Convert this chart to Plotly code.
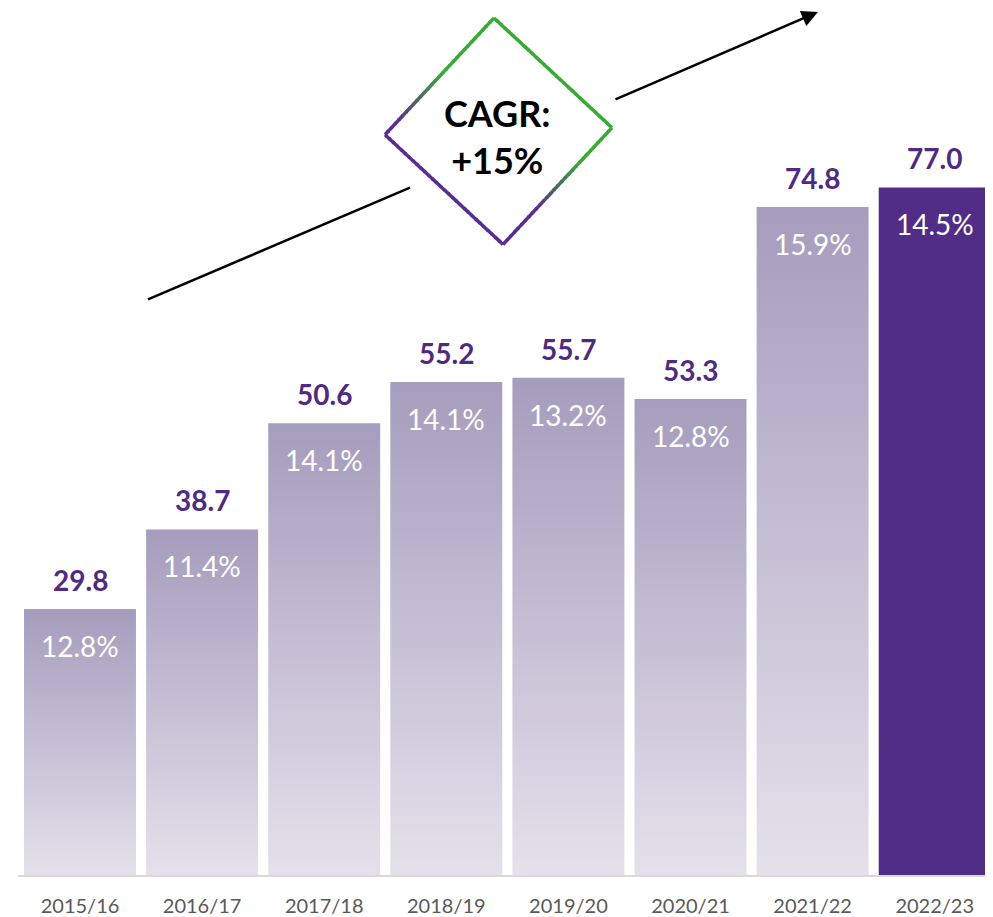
import plotly.graph_objects as go

categories = ["2015/16", "2016/17", "2017/18", "2018/19", "2019/20", "2020/21", "2021/22", "2022/23"]
values = [29.8, 38.7, 50.6, 55.2, 55.7, 53.3, 74.8, 77.0]
shares = ["12.8%", "11.4%", "14.1%", "14.1%", "13.2%", "12.8%", "15.9%", "14.5%"]
value_labels = ["29.8", "38.7", "50.6", "55.2", "55.7", "53.3", "74.8", "77.0"]
cagr_text = "CAGR:<br>+15%"

# page offset (default body margin) compensation
OX, OY = 8, 8
W, H = 993 - OX, 917 - OY
ML, MT = 18 - OX, 0
MR = 0
PLOT_BOTTOM = 877 - OY
MB = H - PLOT_BOTTOM
PW, PH = W - ML - MR, PLOT_BOTTOM - MT
PX_PER_UNIT = 8.95
YMAX = PH / PX_PER_UNIT
PITCH = 122.1
X0 = -(80 - 18) / PITCH
X1 = X0 + PW / PITCH

def px(x):
    return (x - OX - ML) / PW

def py(y):
    return (PLOT_BOTTOM - (y - OY)) / PH

HALF = 0.4585
PURPLE = "#512d87"
LABEL_PURPLE = "#4f2a80"

fig = go.Figure()
for i, (c, v) in enumerate(zip(categories, values)):
    xs = [i - HALF, i + HALF, i + HALF, i - HALF, i - HALF]
    ys = [0, 0, v, v, 0]
    if i == len(categories) - 1:
        fig.add_trace(go.Scatter(x=xs, y=ys, fill="toself", mode="lines",
                                 line=dict(width=0, color=PURPLE), fillcolor=PURPLE,
                                 hoverinfo="skip", showlegend=False))
    else:
        fig.add_trace(go.Scatter(x=xs, y=ys, fill="toself", mode="lines",
                                 line=dict(width=0, color="rgba(0,0,0,0)"),
                                 fillgradient=dict(type="vertical",
                                                   colorscale=[[0, "#e4e1eb"], [1, "#a69cbd"]]),
                                 hoverinfo="skip", showlegend=False))

annotations = []
for i, v in enumerate(values):
    annotations.append(dict(x=i, y=v, xref="x", yref="y", text=f"<b>{value_labels[i]}</b>",
                            showarrow=False, yshift=29, xanchor="center", yanchor="middle",
                            font=dict(family="Lato", size=28, color=LABEL_PURPLE)))
    annotations.append(dict(x=i, y=v, xref="x", yref="y", text=shares[i],
                            showarrow=False, yshift=-37, xanchor="center", yanchor="middle",
                            font=dict(family="Lato", size=28, color="white")))

# CAGR label
annotations.append(dict(x=px(497), y=py(137), xref="paper", yref="paper", text=f"<b>{cagr_text}</b>",
                        showarrow=False, xanchor="center", yanchor="middle",
                        font=dict(family="Lato", size=36, color="black"),
                        align="center"))
# arrow head segment
annotations.append(dict(x=px(818), y=py(12), xref="paper", yref="paper",
                        ax=614 - 818, ay=100 - 12, axref="pixel", ayref="pixel",
                        showarrow=True, arrowhead=2, arrowsize=1.3, arrowwidth=2.5,
                        arrowcolor="black", text=""))

shapes = [dict(type="line", xref="paper", yref="paper", x0=px(148), y0=py(300), x1=px(410), y1=py(188),
               line=dict(color="black", width=2.5))]

# diamond with gradient stroke
verts = [(494, 18), (612, 128), (503, 245), (385, 135)]
c0 = (88, 45, 145)
c1 = (58, 170, 53)

def col(x, y):
    s = 92 * x - 137 * y
    t = (s - 20000) / 11000
    t = max(0.0, min(1.0, t))
    r = [round(a + (b - a) * t) for a, b in zip(c0, c1)]
    return f"rgb({r[0]},{r[1]},{r[2]})"

N = 30
for k in range(4):
    (xa, ya), (xb, yb) = verts[k], verts[(k + 1) % 4]
    for j in range(N):
        t0, t1 = j / N, (j + 1) / N
        x0, y0 = xa + (xb - xa) * t0, ya + (yb - ya) * t0
        x1, y1 = xa + (xb - xa) * t1, ya + (yb - ya) * t1
        ex0, ey0 = xa + (xb - xa) * max(0, t0 - 0.01), ya + (yb - ya) * max(0, t0 - 0.01)
        shapes.append(dict(type="line", xref="paper", yref="paper",
                           x0=px(ex0), y0=py(ey0), x1=px(x1), y1=py(y1),
                           line=dict(color=col((x0 + x1) / 2, (y0 + y1) / 2), width=3.5)))

fig.update_layout(
    width=W, height=H,
    margin=dict(l=ML, r=MR, t=MT, b=MB, pad=0),
    plot_bgcolor="white", paper_bgcolor="white",
    showlegend=False,
    annotations=annotations,
    shapes=shapes,
    xaxis=dict(range=[X0, X1], tickvals=list(range(len(categories))), ticktext=categories,
               showgrid=False, zeroline=False, showline=True, linecolor="#d9d9d9", linewidth=2,
               ticks="", ticklabelstandoff=12,
               tickfont=dict(family="Lato", size=20, color="#595959"), fixedrange=True),
    yaxis=dict(range=[0, YMAX], visible=False, showgrid=False, zeroline=False, fixedrange=True),
)

fig.write_html("out.html", config={"displayModeBar": False})
